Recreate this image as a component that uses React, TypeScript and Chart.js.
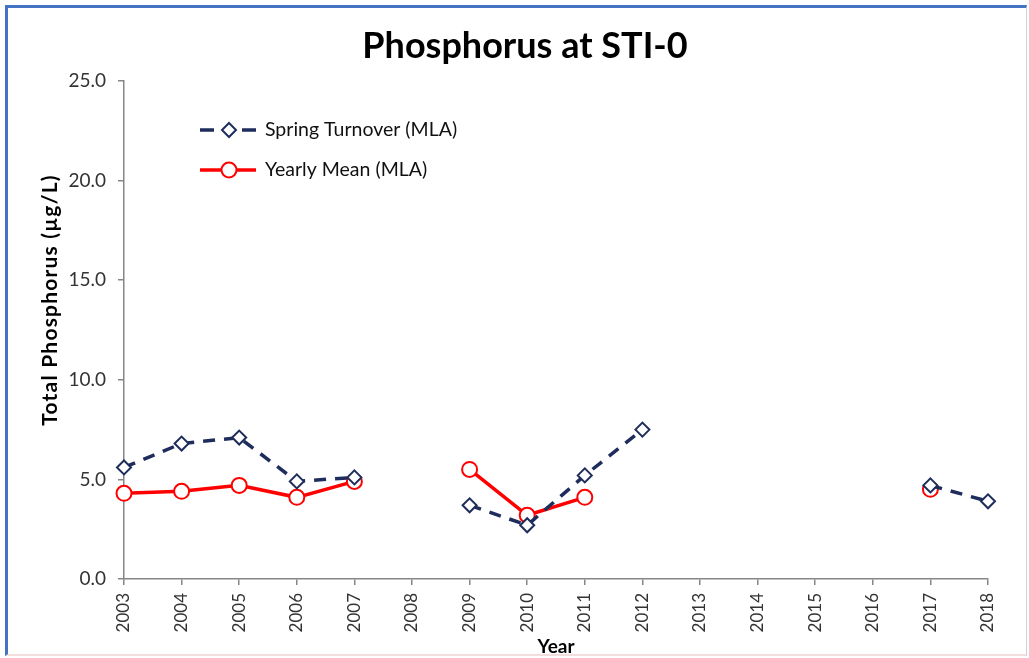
import React, { useEffect, useRef } from "react";
import { Chart, registerables } from "chart.js";

Chart.register(...registerables);

const years = ["2003","2004","2005","2006","2007","2008","2009","2010","2011","2012","2013","2014","2015","2016","2017","2018"];
const springTurnover = [5.6, 6.8, 7.1, 4.9, 5.1, null, 3.7, 2.7, 5.2, 7.5, null, null, null, null, 4.7, 3.9];
const yearlyMean = [4.3, 4.4, 4.7, 4.1, 4.9, null, 5.5, 3.2, 4.1, null, null, null, null, null, 4.5, null];
const yTicks = [0, 5, 10, 15, 20, 25];

const NAVY = "#1f2d5c";
const RED = "#ff0000";
const FONT = "Lato, 'Open Sans', sans-serif";

const overlayPlugin = {
  id: "overlay",
  afterDraw(chart: any) {
    const ctx = chart.ctx;
    ctx.save();
    // y axis title
    ctx.translate(50, 300);
    ctx.rotate(-Math.PI / 2);
    ctx.font = `bold 21px ${FONT}`;
    try { (ctx as any).letterSpacing = "1.2px"; } catch (e) {}
    ctx.fillStyle = "#000";
    ctx.textAlign = "center";
    ctx.textBaseline = "middle";
    ctx.fillText("Total Phosphorus (µg/L)", 0, 0);
    try { (ctx as any).letterSpacing = "0px"; } catch (e) {}
    ctx.restore();

    // legend
    const rows = [130, 170];
    chart.data.datasets.forEach((ds: any, i: number) => {
      const y = rows[i];
      const x0 = 200, x1 = 256, xm = 229;
      ctx.save();
      ctx.strokeStyle = ds.borderColor;
      ctx.lineWidth = ds.borderWidth;
      ctx.beginPath();
      if (ds.borderDash) {
        ctx.moveTo(x0, y); ctx.lineTo(x0 + 14, y);
        ctx.moveTo(x1 - 14, y); ctx.lineTo(x1, y);
      } else {
        ctx.moveTo(x0, y); ctx.lineTo(x1, y);
      }
      ctx.stroke();
      ctx.fillStyle = ds.pointBackgroundColor;
      ctx.strokeStyle = ds.pointBorderColor;
      ctx.lineWidth = ds.pointBorderWidth;
      const r = ds.pointRadius;
      ctx.beginPath();
      if (ds.pointStyle === "rectRot") {
        ctx.moveTo(xm, y - r); ctx.lineTo(xm + r, y); ctx.lineTo(xm, y + r); ctx.lineTo(xm - r, y); ctx.closePath();
      } else {
        ctx.arc(xm, y, r, 0, Math.PI * 2);
      }
      ctx.fill();
      ctx.stroke();
      ctx.font = `19.5px ${FONT}`;
      ctx.fillStyle = "#111";
      ctx.textAlign = "left";
      ctx.textBaseline = "middle";
      ctx.fillText(ds.label, 265, y);
      ctx.restore();
    });
  },
};

export default function App() {
  const ref = useRef<HTMLCanvasElement>(null);
  useEffect(() => {
    if (!ref.current) return;
    const chart = new Chart(ref.current, {
      type: "line",
      data: {
        labels: years,
        datasets: [
          {
            label: "Spring Turnover (MLA)",
            data: springTurnover,
            borderColor: NAVY,
            borderWidth: 3.5,
            borderDash: [12, 9],
            pointStyle: "rectRot",
            pointRadius: 7,
            pointBorderWidth: 2,
            pointBackgroundColor: "#ffffff",
            pointBorderColor: NAVY,
            spanGaps: false,
            tension: 0,
          },
          {
            label: "Yearly Mean (MLA)",
            data: yearlyMean,
            borderColor: RED,
            borderWidth: 3.5,
            pointStyle: "circle",
            pointRadius: 7.5,
            pointBorderWidth: 2,
            pointBackgroundColor: "#ffffff",
            pointBorderColor: RED,
            spanGaps: false,
            tension: 0,
          },
        ],
      } as any,
      options: {
        responsive: false,
        animation: false,
        layout: { padding: { left: 21, right: 0, top: 0, bottom: 0 } },
        plugins: {
          legend: { display: false },
          tooltip: { enabled: false },
          title: {
            display: true,
            text: "Phosphorus at STI-0",
            color: "#000",
            font: { family: FONT, size: 36, weight: "bold" },
            padding: { top: 24.4, bottom: 13.4 },
          },
        },
        scales: {
          x: {
            type: "category",
            offset: false,
            grid: { display: true, drawOnChartArea: false, drawTicks: true, tickLength: 6, color: "#868686", lineWidth: 1.5 },
            border: { color: "#868686", width: 1.5 },
            ticks: { autoSkip: false, minRotation: 90, maxRotation: 90, font: { family: FONT, size: 17 }, color: "#333", padding: 8 },
            title: { display: true, text: "Year", color: "#000", font: { family: FONT, size: 19, weight: "bold" }, padding: { top: 0, bottom: 0 } },
            afterFit: (s: any) => { s.height = 79; },
          },
          y: {
            min: 0,
            max: 25,
            afterBuildTicks: (s: any) => { s.ticks = yTicks.map((v) => ({ value: v })); },
            grid: { display: true, drawOnChartArea: false, drawTicks: true, tickLength: 6, color: "#868686", lineWidth: 1.5 },
            border: { color: "#868686", width: 1.5 },
            ticks: { font: { family: FONT, size: 19 }, color: "#333", padding: 12, callback: (v: any) => Number(v).toFixed(1) },
            afterFit: (s: any) => { s.width = 103; },
          },
          y2: {
            position: "right",
            display: true,
            grid: { display: false },
            border: { display: false },
            ticks: { display: false },
            afterFit: (s: any) => { s.width = 41; },
          },
        },
      } as any,
      plugins: [overlayPlugin],
    });
    return () => chart.destroy();
  }, []);

  return (
    <div style={{ position: "fixed", left: 0, top: 0, width: 1029, height: 658, background: "#fff" }}>
      <canvas ref={ref} width={1029} height={658} style={{ position: "absolute", left: 0, top: 0 }} />
      <div
        style={{
          position: "absolute",
          left: 5,
          top: 5,
          width: 1018,
          height: 646,
          borderLeft: "3px solid #4472c4",
          borderTop: "3px solid #4472c4",
          borderRight: "1px solid #d0d0d0",
          borderBottom: "2px solid #f3dede",
          pointerEvents: "none",
        }}
      />
    </div>
  );
}
